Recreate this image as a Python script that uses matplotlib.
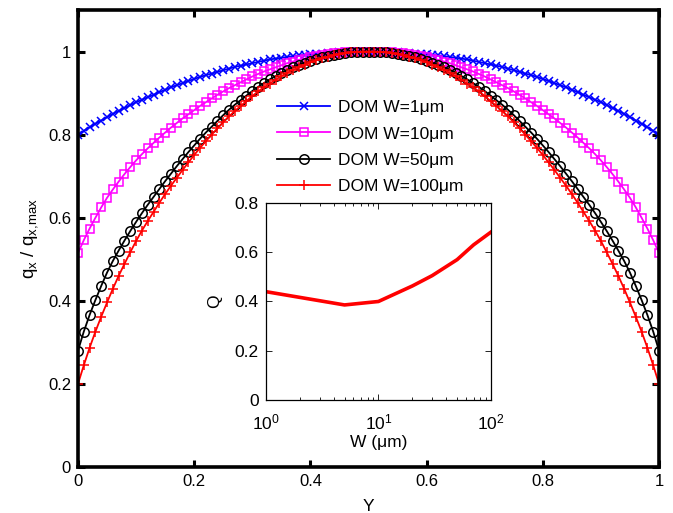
import numpy as np
import matplotlib
matplotlib.use("Agg")
import matplotlib.pyplot as plt
from matplotlib.ticker import FuncFormatter, LogLocator, NullFormatter

plt.rcParams['font.family'] = ['Liberation Sans', 'DejaVu Sans']
plt.rcParams['mathtext.fontset'] = 'custom'
plt.rcParams['mathtext.rm'] = 'Liberation Sans'
plt.rcParams['mathtext.it'] = 'Liberation Sans:italic'

# Normalised flux profiles across the channel, Y = 0 ... 0.5 (profiles are symmetric)
y_half = np.round(np.arange(0, 0.501, 0.01), 2)

q_w1 = [0.800, 0.809, 0.818, 0.826, 0.834, 0.842, 0.850, 0.857, 0.864, 0.871,
        0.878, 0.884, 0.890, 0.896, 0.902, 0.908, 0.914, 0.919, 0.924, 0.929,
        0.934, 0.939, 0.943, 0.947, 0.951, 0.955, 0.959, 0.963, 0.966, 0.969,
        0.972, 0.975, 0.978, 0.981, 0.983, 0.985, 0.987, 0.989, 0.991, 0.992,
        0.993, 0.994, 0.995, 0.996, 0.997, 0.998, 0.999, 1.000, 1.000, 1.000,
        1.000]
q_w10 = [0.515, 0.546, 0.574, 0.600, 0.625, 0.648, 0.668, 0.687, 0.705, 0.722,
         0.738, 0.753, 0.767, 0.780, 0.793, 0.805, 0.817, 0.828, 0.839, 0.849,
         0.859, 0.869, 0.878, 0.887, 0.896, 0.904, 0.912, 0.919, 0.926, 0.933,
         0.940, 0.946, 0.952, 0.957, 0.962, 0.967, 0.972, 0.976, 0.980, 0.983,
         0.986, 0.989, 0.992, 0.994, 0.996, 0.997, 0.998, 0.999, 1.000, 1.000,
         1.000]
q_w50 = [0.280, 0.326, 0.366, 0.402, 0.436, 0.468, 0.496, 0.521, 0.545, 0.568,
         0.590, 0.611, 0.631, 0.650, 0.669, 0.688, 0.706, 0.724, 0.741, 0.758,
         0.774, 0.790, 0.805, 0.819, 0.833, 0.847, 0.860, 0.872, 0.883, 0.894,
         0.905, 0.915, 0.924, 0.933, 0.941, 0.949, 0.956, 0.962, 0.968, 0.973,
         0.978, 0.982, 0.986, 0.989, 0.992, 0.995, 0.997, 0.998, 0.999, 1.000,
         1.000]
q_w100 = [0.200, 0.245, 0.287, 0.326, 0.362, 0.396, 0.429, 0.460, 0.489, 0.517,
          0.544, 0.569, 0.592, 0.614, 0.636, 0.657, 0.677, 0.696, 0.715, 0.733,
          0.751, 0.768, 0.784, 0.800, 0.815, 0.830, 0.844, 0.857, 0.869, 0.881,
          0.893, 0.904, 0.914, 0.923, 0.932, 0.941, 0.949, 0.956, 0.962, 0.968,
          0.974, 0.979, 0.984, 0.988, 0.991, 0.994, 0.996, 0.998, 0.999, 1.000,
          1.000]

labels = ['DOM W=1μm', 'DOM W=10μm', 'DOM W=50μm', 'DOM W=100μm']
colors = ['#0000ff', '#ff00ff', '#000000', '#ff0000']
markers = ['x', 's', 'o', '+']
marker_sizes = [6.0, 6.0, 6.8, 7.8]

# Inset: Q versus channel width
w_inset = [1, 5, 10, 20, 30, 50, 70, 100]
q_inset = [0.440, 0.386, 0.400, 0.463, 0.505, 0.570, 0.630, 0.682]


def full_profile(half):
    half = np.asarray(half)
    return np.concatenate([half, half[-2::-1]])


y_full = np.concatenate([y_half, 1 - y_half[-2::-1]])

fig = plt.figure(figsize=(6.73, 5.13), dpi=100)
ax = fig.add_axes([0.1159, 0.0897, 0.8633, 0.8908])

for half, lab, c, m, ms in zip([q_w1, q_w10, q_w50, q_w100], labels, colors,
                               markers, marker_sizes):
    ax.plot(y_full, full_profile(half), color=c, marker=m, ms=ms, mfc='none',
            mec=c, mew=1.1, lw=1.3, label=lab)

ax.set_xlim(0, 1)
ax.set_ylim(0, 1.1)
ax.set_xticks([0, 0.2, 0.4, 0.6, 0.8, 1.0])
ax.set_yticks([0, 0.2, 0.4, 0.6, 0.8, 1.0])
fmt = FuncFormatter(lambda v, p: '%g' % v)
ax.xaxis.set_major_formatter(fmt)
ax.yaxis.set_major_formatter(fmt)
ax.tick_params(direction='in', length=5, width=2.2, labelsize=12,
               top=True, right=True, pad=5)
for s in ax.spines.values():
    s.set_linewidth(2.6)
ax.set_xlabel('Y', fontsize=12.5, labelpad=7)
ax.set_ylabel('q$_\\mathregular{x}$ / q$_\\mathregular{x{,}max}$', fontsize=13.5, labelpad=6)

leg = ax.legend(loc='upper left', bbox_to_anchor=(0.33, 0.818), frameon=False,
                fontsize=12.5, handlelength=3.1, handletextpad=0.45,
                labelspacing=0.64, borderaxespad=0)

# Inset axes
axi = fig.add_axes([0.395, 0.2203, 0.3346, 0.384])
axi.plot(w_inset, q_inset, color='#ff0000', lw=2.6)
axi.set_xscale('log')
axi.set_xlim(1, 100)
axi.set_ylim(0, 0.8)
axi.set_yticks([0, 0.2, 0.4, 0.6, 0.8])
axi.yaxis.set_major_formatter(fmt)
axi.xaxis.set_minor_locator(LogLocator(base=10, subs=np.arange(2, 10)))
axi.xaxis.set_minor_formatter(NullFormatter())
axi.tick_params(which='both', direction='in', top=True, right=True,
                labelsize=12.5, width=0.6)
axi.tick_params(which='major', length=4, pad=5)
axi.tick_params(axis='x', which='major', pad=9)
axi.tick_params(which='minor', length=2)
for s in axi.spines.values():
    s.set_linewidth(0.9)
axi.set_xlabel('W (μm)', fontsize=12.5, labelpad=2)
axi.set_ylabel('Q', fontsize=12.5, labelpad=9)

fig.savefig('out.png', dpi=100)
